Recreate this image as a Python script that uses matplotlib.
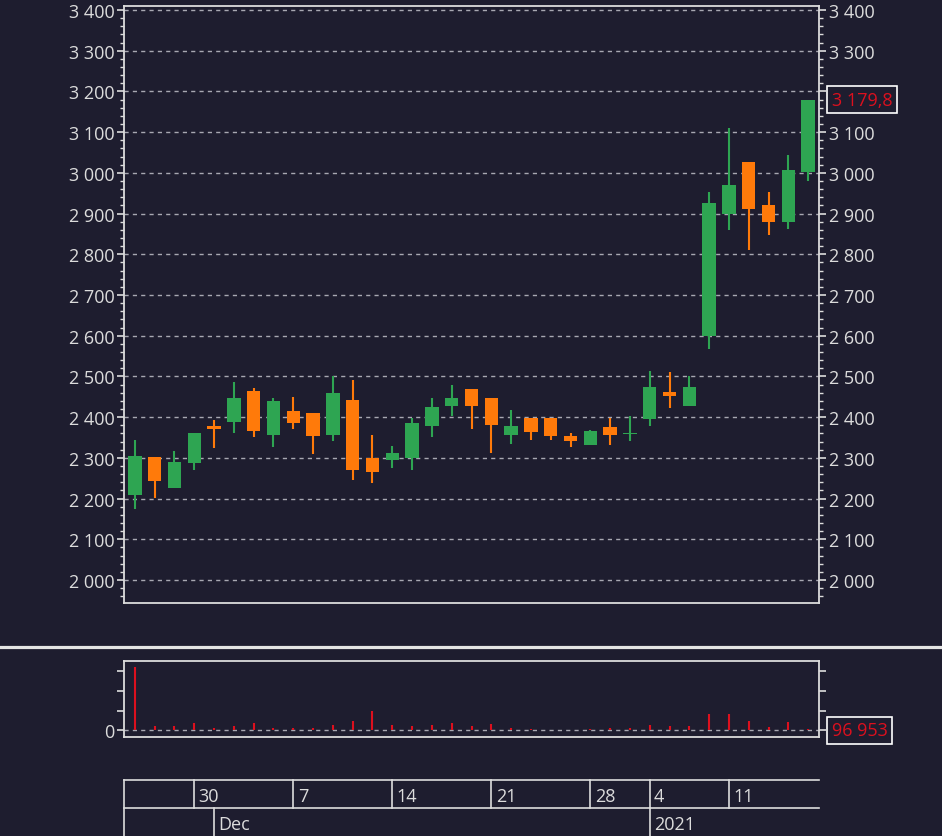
import numpy as np
import pandas as pd
import matplotlib
matplotlib.use('Agg')
import matplotlib.pyplot as plt
from matplotlib.lines import Line2D
from matplotlib.ticker import FuncFormatter, MultipleLocator, FixedLocator

# торгові дні
dates = ['2020-11-25', '2020-11-26', '2020-11-27', '2020-11-30',
         '2020-12-01', '2020-12-02', '2020-12-03', '2020-12-04',
         '2020-12-07', '2020-12-08', '2020-12-09', '2020-12-10', '2020-12-11',
         '2020-12-14', '2020-12-15', '2020-12-16', '2020-12-17', '2020-12-18',
         '2020-12-21', '2020-12-22', '2020-12-23', '2020-12-24', '2020-12-25',
         '2020-12-28', '2020-12-29', '2020-12-30',
         '2021-01-04', '2021-01-05', '2021-01-06', '2021-01-08',
         '2021-01-11', '2021-01-12', '2021-01-13', '2021-01-14', '2021-01-15']

opens = [2209, 2302, 2225, 2287, 2379, 2388, 2465, 2357, 2416, 2411,
         2357, 2443, 2299, 2295, 2299, 2379, 2428, 2470, 2447, 2357,
         2399, 2397, 2354, 2332, 2375, 2358, 2395, 2462, 2428, 2599,
         2900, 3027, 2922, 2879, 3002]
highs = [2343, 2302, 2317, 2360, 2393, 2487, 2471, 2446, 2450, 2411,
         2502, 2492, 2357, 2330, 2397, 2446, 2479, 2470, 2447, 2418,
         2399, 2399, 2360, 2369, 2397, 2403, 2514, 2511, 2502, 2953,
         3109, 3027, 2953, 3044, 3179.8]
lows = [2175, 2202, 2225, 2270, 2323, 2360, 2350, 2327, 2370, 2309,
        2342, 2246, 2237, 2274, 2270, 2352, 2403, 2370, 2311, 2335,
        2344, 2344, 2327, 2332, 2332, 2342, 2379, 2422, 2428, 2567,
        2859, 2810, 2847, 2861, 2981]
closes = [2305, 2243, 2289, 2360, 2372, 2446, 2366, 2440, 2385, 2354,
          2458, 2270, 2264, 2311, 2385, 2424, 2446, 2428, 2381, 2379,
          2364, 2354, 2342, 2366, 2357, 2360, 2473, 2453, 2474, 2926,
          2971, 2910, 2879, 3008, 3179.8]
volumes = [6340000, 400000, 400000, 760000, 260000, 400000, 740000, 260000,
           260000, 260000, 540000, 940000, 1940000, 540000, 400000, 540000,
           740000, 400000, 600000, 260000, 160000, 60000, 60000, 140000,
           260000, 260000, 540000, 400000, 400000, 1600000, 1600000, 940000,
           340000, 800000, 96953]

bg = '#1e1d2f'
fg = '#dcdcdc'
green = '#2ea552'
orange = '#ff7a0a'
red = '#dc101e'
grid_c = '#a8a8b2'
fs = 13

plt.rcParams['font.family'] = ['Open Sans', 'DejaVu Sans']
plt.rcParams['font.size'] = fs

W, H = 942, 837
fig = plt.figure(figsize=(W / 100, H / 100), dpi=100, facecolor=bg)


def box(l, t, r, b):
    return [l / W, 1 - b / H, (r - l) / W, (b - t) / H]


def fmt_num(v, _=None):
    return f'{v:,.0f}'.replace(',', ' ')


ax = fig.add_axes(box(124, 7, 819, 604))
axv = fig.add_axes(box(124, 662, 819, 738))
axd = fig.add_axes(box(124, 781, 819, 837))

x = np.arange(len(dates))
o = np.array(opens)
c = np.array(closes)
cols = np.where(c >= o, green, orange)
xlim = (-0.55, len(dates) - 0.45)
last = closes[-1]
ylim = (1943.4, 3409.8)

axr = ax.twinx()

for a in (ax, axv, axr):
    a.set_xlim(*xlim)
    for s in a.spines.values():
        s.set_color(fg)
        s.set_linewidth(1.3)
    a.tick_params(axis='y', which='both', colors=fg, labelcolor=fg,
                  labelsize=fs, pad=2)
    a.tick_params(axis='y', which='major', length=5, width=1.2)
    a.tick_params(axis='y', which='minor', length=3, width=1.0)
    a.tick_params(axis='x', which='both', bottom=False, labelbottom=False)

ax.set_facecolor(bg)
axv.set_facecolor(bg)
ax.tick_params(axis='y', which='both', left=True, right=False,
               labelleft=True, labelright=False)
axv.tick_params(axis='y', which='both', left=True, right=True,
                labelleft=True, labelright=False)
for s in axr.spines.values():
    s.set_visible(False)

# ціни
ax.vlines(x, lows, highs, colors=cols, lw=1.5, zorder=2)
body = np.maximum(np.abs(c - o), 3)
ax.bar(x, body, bottom=np.minimum(o, c), width=0.68, color=cols, zorder=3)
for a in (ax, axr):
    a.set_ylim(*ylim)
    a.yaxis.set_major_locator(MultipleLocator(100))
    a.yaxis.set_minor_locator(MultipleLocator(20))
ax.yaxis.set_major_formatter(FuncFormatter(fmt_num))
axr.yaxis.set_major_formatter(
    FuncFormatter(lambda v, _: '' if abs(v - last) < 40 else fmt_num(v)))
ax.grid(axis='y', which='major', color=grid_c, ls=(0, (3, 3)), lw=1)
ax.set_axisbelow(True)

axr.annotate(f'{last:,.1f}'.replace(',', ' ').replace('.', ','),
             xy=(1, last), xycoords=('axes fraction', 'data'),
             xytext=(13, 0), textcoords='offset pixels', ha='left', va='center',
             color=red, fontsize=fs, annotation_clip=False, zorder=10,
             bbox=dict(boxstyle='square,pad=0.25', fc=bg, ec='white', lw=1.2))

# обсяги
axv.vlines(x, 0, volumes, colors=red, lw=1.5)
axv.set_ylim(-660000, 6970000)
axv.yaxis.set_major_locator(FixedLocator([0, 2e6, 4e6, 6e6]))
axv.yaxis.set_major_formatter(FuncFormatter(lambda v, _: '0' if v == 0 else ''))
axv.axhline(0, color=grid_c, ls=(0, (3, 3)), lw=1, zorder=0)
axv.annotate(fmt_num(volumes[-1]),
             xy=(1, 0), xycoords=('axes fraction', 'data'),
             xytext=(13, 0), textcoords='offset pixels', ha='left', va='center',
             color=red, fontsize=fs, annotation_clip=False, zorder=10,
             bbox=dict(boxstyle='square,pad=0.25', fc=bg, ec='white', lw=1.2))

# шкала дат
dts = pd.to_datetime(dates)
axd.set_xlim(*xlim)
axd.set_ylim(0, 1)
axd.axis('off')
line_kw = dict(color=fg, lw=1.2, clip_on=False)
axd.plot(xlim, [1, 1], **line_kw)
axd.plot(xlim, [0.5, 0.5], **line_kw)
axd.plot([xlim[0], xlim[0]], [0, 1], **line_kw)
for i in range(1, len(dts)):
    if dts[i].isocalendar()[1] != dts[i - 1].isocalendar()[1]:
        axd.plot([i, i], [0.5, 1], **line_kw)
        axd.text(i + 0.22, 0.71, str(dts[i].day), color=fg, fontsize=fs,
                 ha='left', va='center')
    if dts[i].month != dts[i - 1].month:
        lab = str(dts[i].year) if dts[i].month == 1 else dts[i].strftime('%b')
        axd.plot([i, i], [0, 0.5], **line_kw)
        axd.text(i + 0.22, 0.21, lab, color=fg, fontsize=fs,
                 ha='left', va='center')

fig.add_artist(Line2D([0, 1], [1 - 648 / H, 1 - 648 / H],
                      transform=fig.transFigure, color='#e4e4e4', lw=2.3))

fig.savefig('out.png', dpi=100, facecolor=bg)
